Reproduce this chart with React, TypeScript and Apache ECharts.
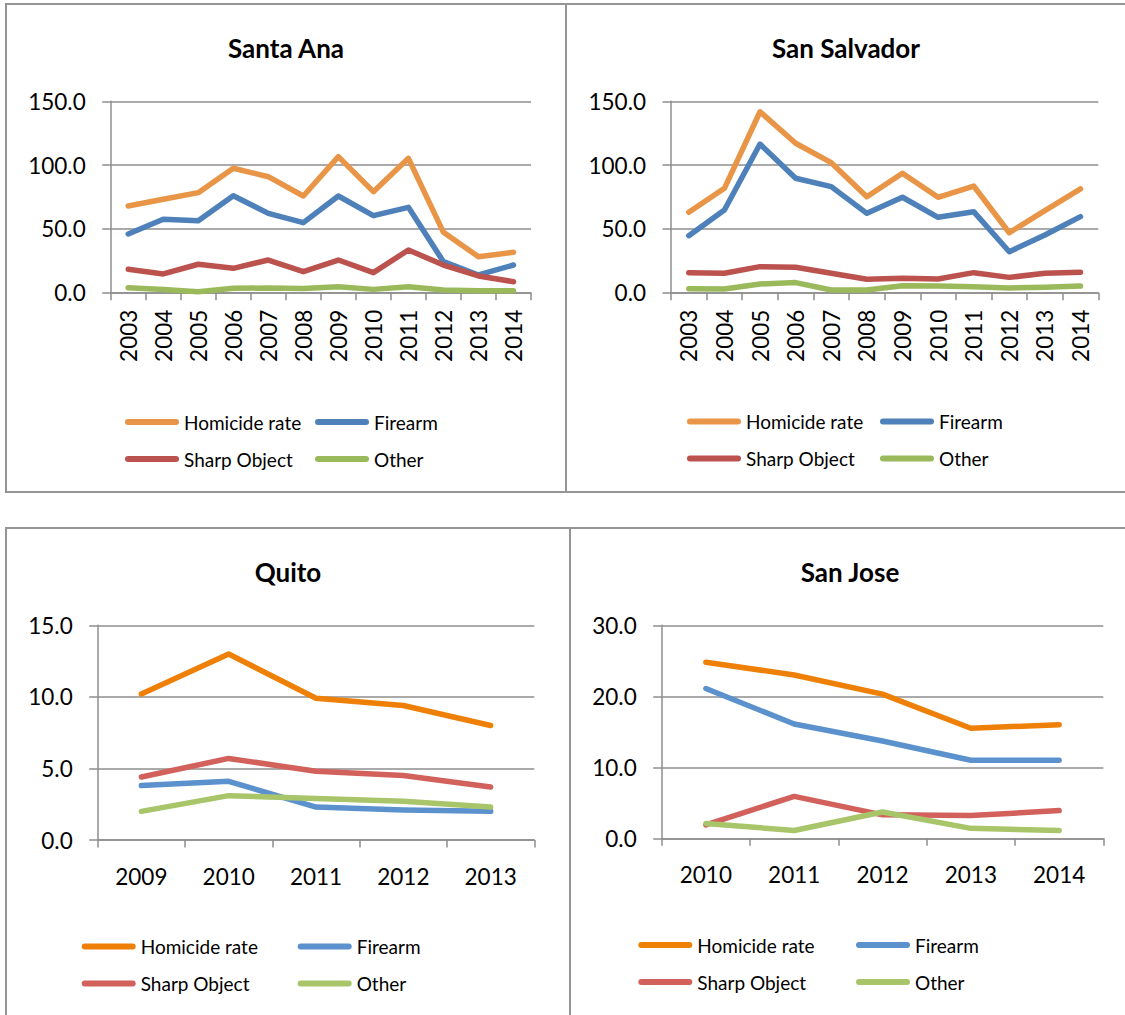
import React, { useEffect, useRef } from 'react';
import * as echarts from 'echarts';

// ---------- DATA ----------
const seriesNames = ['Homicide rate', 'Firearm', 'Sharp Object', 'Other'];

const yearsElSalvador = ['2003', '2004', '2005', '2006', '2007', '2008', '2009', '2010', '2011', '2012', '2013', '2014'];
const yearsQuito = ['2009', '2010', '2011', '2012', '2013'];
const yearsSanJose = ['2010', '2011', '2012', '2013', '2014'];

const santaAnaHomicide = [68.0, 73.2, 78.4, 97.5, 90.9, 75.8, 106.6, 79.2, 105.3, 47.3, 28.2, 31.7];
const santaAnaFirearm = [46.0, 57.5, 56.4, 76.0, 62.2, 54.9, 75.8, 60.4, 66.9, 24.3, 13.9, 21.7];
const santaAnaSharp = [18.3, 14.7, 22.3, 19.1, 25.6, 16.5, 25.6, 15.7, 33.5, 21.7, 13.1, 8.6];
const santaAnaOther = [3.9, 2.6, 0.8, 3.4, 3.7, 3.2, 4.7, 2.6, 4.7, 2.1, 1.6, 1.6];

const sanSalvadorHomicide = [63.0, 81.8, 141.8, 117.1, 101.9, 75.2, 93.6, 74.8, 83.6, 47.0, 64.3, 81.3];
const sanSalvadorFirearm = [44.7, 64.8, 116.5, 89.7, 83.1, 62.2, 74.8, 59.1, 63.5, 32.1, 45.2, 59.6];
const sanSalvadorSharp = [15.7, 15.2, 20.4, 20.0, 15.2, 10.5, 11.3, 10.7, 15.7, 12.0, 15.2, 16.0];
const sanSalvadorOther = [3.1, 2.9, 6.8, 7.9, 2.1, 2.1, 5.5, 5.2, 4.7, 3.7, 4.2, 5.2];

const quitoHomicide = [10.2, 13.0, 9.9, 9.4, 8.0];
const quitoFirearm = [3.8, 4.1, 2.3, 2.1, 2.0];
const quitoSharp = [4.4, 5.7, 4.8, 4.5, 3.7];
const quitoOther = [2.0, 3.1, 2.9, 2.7, 2.3];

const sanJoseHomicide = [24.8, 23.0, 20.3, 15.5, 16.0];
const sanJoseFirearm = [21.1, 16.1, 13.7, 11.0, 11.0];
const sanJoseSharp = [1.9, 5.9, 3.3, 3.2, 3.9];
const sanJoseOther = [2.1, 1.1, 3.7, 1.4, 1.1];

const elSalvadorAxisMax = 150;
const elSalvadorAxisStep = 50;
const quitoAxisMax = 15;
const quitoAxisStep = 5;
const sanJoseAxisMax = 30;
const sanJoseAxisStep = 10;

// ---------- STYLE ----------
const topColors = ['#E99548', '#4E81BA', '#BC524E', '#9AB95A'];
const bottomColors = ['#EE8008', '#5B92CD', '#D2615C', '#A8C56A'];
const gridColor = '#8E8E8E';
const borderColor = '#959595';
const FONT = 'Lato';
const capsule = 'path://M3,0H51A3,3,0,0,1,51,6H3A3,3,0,0,1,3,0Z';

const panels = [
  {
    title: 'Santa Ana',
    years: yearsElSalvador,
    values: [santaAnaHomicide, santaAnaFirearm, santaAnaSharp, santaAnaOther],
    colors: topColors,
    yMax: elSalvadorAxisMax,
    yStep: elSalvadorAxisStep,
    rotate: 90,
    labelMargin: 17,
    box: { left: 6, top: 4, width: 560, height: 488 },
    grid: { left: 104.7, top: 97.3, width: 420.3, height: 191.4 },
    legendLeft: [119, 309],
    legendTop: 408.5,
  },
  {
    title: 'San Salvador',
    years: yearsElSalvador,
    values: [sanSalvadorHomicide, sanSalvadorFirearm, sanSalvadorSharp, sanSalvadorOther],
    colors: topColors,
    yMax: elSalvadorAxisMax,
    yStep: elSalvadorAxisStep,
    rotate: 90,
    labelMargin: 17,
    box: { left: 566, top: 4, width: 560, height: 488 },
    grid: { left: 105, top: 97.3, width: 427.3, height: 191.4 },
    legendLeft: [121, 314],
    legendTop: 408,
  },
  {
    title: 'Quito',
    years: yearsQuito,
    values: [quitoHomicide, quitoFirearm, quitoSharp, quitoOther],
    colors: bottomColors,
    yMax: quitoAxisMax,
    yStep: quitoAxisStep,
    rotate: 0,
    labelMargin: 25,
    box: { left: 6, top: 528, width: 564, height: 487 },
    grid: { left: 91.7, top: 97.3, width: 436.6, height: 214.7 },
    legendLeft: [75.7, 291.7],
    legendTop: 409,
  },
  {
    title: 'San Jose',
    years: yearsSanJose,
    values: [sanJoseHomicide, sanJoseFirearm, sanJoseSharp, sanJoseOther],
    colors: bottomColors,
    yMax: sanJoseAxisMax,
    yStep: sanJoseAxisStep,
    rotate: 0,
    labelMargin: 25,
    box: { left: 570, top: 528, width: 560, height: 487 },
    grid: { left: 91.7, top: 97.3, width: 441.6, height: 213 },
    legendLeft: [68.3, 286],
    legendTop: 407.5,
  },
];

function buildOption(p: any) {
  const legendBase = {
    orient: 'vertical',
    top: p.legendTop,
    padding: 0,
    itemGap: 18,
    itemWidth: 54,
    itemHeight: 6,
    icon: capsule,
    textStyle: { fontFamily: FONT, fontSize: 19, color: '#000' },
    selectedMode: false,
  };
  return {
    animation: false,
    title: {
      text: p.title,
      left: 'center',
      top: 26,
      textStyle: { fontFamily: FONT, fontWeight: 'bold', fontSize: 26, color: '#000' },
    },
    legend: [
      { ...legendBase, left: p.legendLeft[0], data: [seriesNames[0], seriesNames[2]] },
      { ...legendBase, left: p.legendLeft[1], data: [seriesNames[1], seriesNames[3]] },
    ],
    grid: { ...p.grid, containLabel: false },
    xAxis: {
      type: 'category',
      data: p.years,
      boundaryGap: true,
      axisLine: { show: true, lineStyle: { color: gridColor, width: 1.5 } },
      axisTick: { show: true, length: 7.5, interval: 0, lineStyle: { color: gridColor, width: 1.5 } },
      axisLabel: {
        interval: 0,
        rotate: p.rotate,
        margin: p.labelMargin,
        fontFamily: FONT,
        fontSize: 22.5,
        color: '#000',
      },
      splitLine: { show: false },
    },
    yAxis: {
      type: 'value',
      min: 0,
      max: p.yMax,
      interval: p.yStep,
      axisLine: { show: true, lineStyle: { color: gridColor, width: 1.5 } },
      axisTick: { show: true, length: 8.5, lineStyle: { color: gridColor, width: 1.5 } },
      axisLabel: {
        margin: 25,
        fontFamily: FONT,
        fontSize: 22.5,
        color: '#000',
        formatter: (v: number) => v.toFixed(1),
      },
      splitLine: { show: true, lineStyle: { color: gridColor, width: 1.5 } },
    },
    series: seriesNames.map((name, i) => ({
      name,
      type: 'line',
      data: p.values[i],
      symbol: 'none',
      color: p.colors[i],
      lineStyle: { width: 5.5, color: p.colors[i], cap: 'round', join: 'round' },
      emphasis: { disabled: true },
    })),
  };
}

function Panel({ cfg }: { cfg: any }) {
  const ref = useRef<HTMLDivElement>(null);
  useEffect(() => {
    if (!ref.current) return;
    const chart = echarts.init(ref.current, null, { renderer: 'svg' });
    chart.setOption(buildOption(cfg) as any);
    return () => chart.dispose();
  }, [cfg]);
  return (
    <div
      ref={ref}
      style={{
        position: 'absolute',
        left: cfg.box.left,
        top: cfg.box.top,
        width: cfg.box.width,
        height: cfg.box.height,
      }}
    />
  );
}

const borderLines = [
  { left: 5, top: 3, width: 1120, height: 2 },
  { left: 5, top: 491, width: 1120, height: 2 },
  { left: 5, top: 3, width: 2, height: 490 },
  { left: 565, top: 3, width: 2, height: 490 },
  { left: 5, top: 527, width: 1120, height: 2 },
  { left: 5, top: 527, width: 2, height: 488 },
  { left: 569, top: 527, width: 2, height: 488 },
];

export default function App() {
  return (
    <div
      style={{
        position: 'absolute',
        left: 0,
        top: 0,
        width: 1125,
        height: 1015,
        background: '#fff',
        overflow: 'hidden',
      }}
    >
      {panels.map((p) => (
        <Panel key={p.title} cfg={p} />
      ))}
      {borderLines.map((b, i) => (
        <div
          key={i}
          style={{ position: 'absolute', ...b, background: borderColor }}
        />
      ))}
    </div>
  );
}
